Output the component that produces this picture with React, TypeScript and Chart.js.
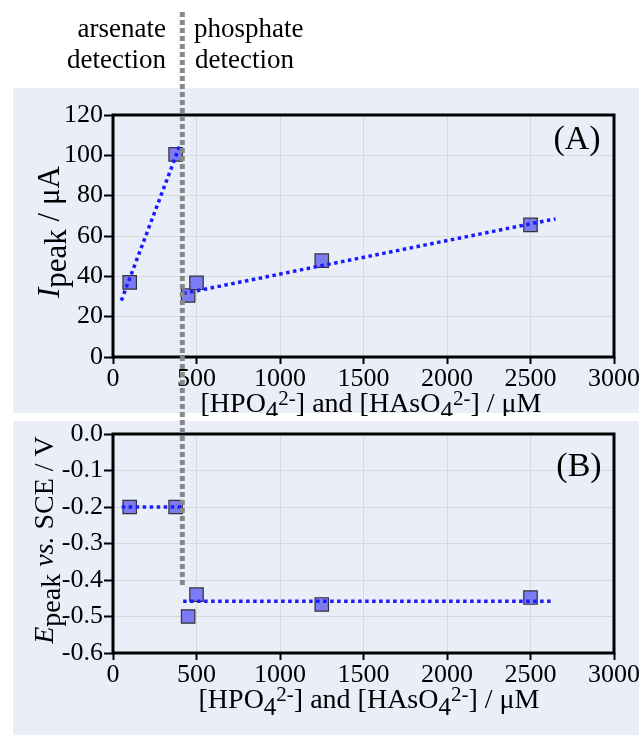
import React, { useEffect, useRef } from "react";
import { Chart, registerables } from "chart.js";
Chart.register(...registerables);

// ---------------- data ----------------
const xTickValues = [0, 500, 1000, 1500, 2000, 2500, 3000];
const iTickValues = [0, 20, 40, 60, 80, 100, 120];
const eTickValues = [0, -0.1, -0.2, -0.3, -0.4, -0.5, -0.6];

const arsenateConc = [100, 375];
const phosphateConc = [450, 500, 1250, 2500];

const arsenateIpeak = [37, 100.5];
const phosphateIpeak = [30.5, 36.8, 47.8, 65.5];
const arsenateIfitConc = [50, 403];
const arsenateIfit = [28, 105.5];
const phosphateIfitConc = [420, 2650];
const phosphateIfit = [31.5, 68.5];

const arsenateEpeak = [-0.2, -0.2];
const phosphateEpeak = [-0.5, -0.44, -0.467, -0.448];
const arsenateEfitConc = [52, 430];
const arsenateEfit = [-0.2, -0.2];
const phosphateEfitConc = [420, 2635];
const phosphateEfit = [-0.458, -0.458];

const dividerConc = 415;

// ---------------- styling ----------------
const FONT = "'Liberation Serif', 'Times New Roman', serif";
const PANEL_BG = "#e9eef8";
const GRID = "#d9d9d9";
const FIT_COLOR = "#1a1aff";
const MARK_FILL = "#7b7bf3";
const MARK_EDGE = "#333333";

type Seg = { t: string; size: number; dy?: number; italic?: boolean };

const xTitleSegs: Seg[] = [
  { t: "[HPO", size: 28 },
  { t: "4", size: 25, dy: 7 },
  { t: "2-", size: 21, dy: -7 },
  { t: "] and [HAsO", size: 28 },
  { t: "4", size: 25, dy: 7 },
  { t: "2-", size: 21, dy: -7 },
  { t: "] / \u03bcM", size: 28 },
];
const yTitleA: Seg[] = [
  { t: "I", size: 31, italic: true },
  { t: "peak", size: 31, dy: 7 },
  { t: " / \u03bcA", size: 31 },
];
const yTitleB: Seg[] = [
  { t: "E", size: 28, italic: true },
  { t: "peak", size: 28, dy: 7 },
  { t: " ", size: 28 },
  { t: "vs.", size: 28, italic: true },
  { t: " SCE / V", size: 28 },
];

function zip(xs: number[], ys: number[]) {
  return xs.map((x, i) => ({ x, y: ys[i] }));
}

function fontStr(s: Seg) {
  return `${s.italic ? "italic " : ""}${s.size}px ${FONT}`;
}

function drawRich(ctx: CanvasRenderingContext2D, segs: Seg[], cx: number, cy: number) {
  let total = 0;
  const widths = segs.map((s) => {
    ctx.font = fontStr(s);
    const w = ctx.measureText(s.t).width;
    total += w;
    return w;
  });
  let x = cx - total / 2;
  ctx.textAlign = "left";
  ctx.textBaseline = "alphabetic";
  ctx.fillStyle = "#000";
  segs.forEach((s, i) => {
    ctx.font = fontStr(s);
    ctx.fillText(s.t, x, cy + (s.dy || 0));
    x += widths[i];
  });
}

interface Deco {
  bg: [number, number, number, number];
  xTitleX: number;
  xTitleY: number;
  yTitle: Seg[];
  yTitleX: number;
  yTitleY: number;
  label: string;
  labelX: number;
  labelY: number;
  divTop: number;
  divBottom: number | null;
  divOffset: number;
  header: boolean;
}

function decoPlugin(d: Deco) {
  return {
    id: "deco",
    beforeDraw(chart: any) {
      const ctx: CanvasRenderingContext2D = chart.ctx;
      ctx.save();
      ctx.fillStyle = "#ffffff";
      ctx.fillRect(0, 0, chart.width, chart.height);
      ctx.fillStyle = PANEL_BG;
      ctx.fillRect(d.bg[0], d.bg[1], d.bg[2], d.bg[3]);
      ctx.restore();
    },
    afterDraw(chart: any) {
      const ctx: CanvasRenderingContext2D = chart.ctx;
      const a = chart.chartArea;
      ctx.save();
      // frame
      ctx.strokeStyle = "#000";
      ctx.lineWidth = 3;
      ctx.strokeRect(a.left, a.top, a.right - a.left, a.bottom - a.top);
      // titles
      drawRich(ctx, xTitleSegs, d.xTitleX, d.xTitleY);
      ctx.save();
      ctx.translate(d.yTitleX, d.yTitleY);
      ctx.rotate(-Math.PI / 2);
      drawRich(ctx, d.yTitle, 0, 0);
      ctx.restore();
      // panel label
      ctx.font = `34px ${FONT}`;
      ctx.textAlign = "center";
      ctx.textBaseline = "alphabetic";
      ctx.fillStyle = "#000";
      ctx.fillText(d.label, d.labelX, d.labelY);
      if (d.header) {
        ctx.font = `27px ${FONT}`;
        ctx.textAlign = "right";
        ctx.fillText("arsenate", 166, 37);
        ctx.fillText("detection", 166, 68);
        ctx.textAlign = "left";
        ctx.fillText("phosphate", 194, 37);
        ctx.fillText("detection", 195, 68);
      }
      // divider
      const x = chart.scales.x.getPixelForValue(dividerConc);
      ctx.strokeStyle = "#898989";
      ctx.lineWidth = 5;
      ctx.setLineDash([5, 3]);
      ctx.lineDashOffset = d.divOffset;
      ctx.beginPath();
      ctx.moveTo(x, d.divTop);
      ctx.lineTo(x, d.divBottom == null ? chart.height : d.divBottom);
      ctx.stroke();
      ctx.restore();
    },
  };
}

function fitDataset(data: { x: number; y: number }[]) {
  return {
    type: "line" as const,
    data,
    showLine: true,
    borderColor: FIT_COLOR,
    borderWidth: 3.5,
    borderDash: [3.5, 3.5],
    pointRadius: 0,
    fill: false,
    order: 0,
  };
}

function markDataset(data: { x: number; y: number }[]) {
  return {
    type: "scatter" as const,
    data,
    pointStyle: "rect",
    pointRadius: 9.5,
    pointHoverRadius: 9.5,
    backgroundColor: MARK_FILL,
    borderColor: MARK_EDGE,
    borderWidth: 1.2,
    order: 1,
  };
}

function makeScales(
  yMin: number,
  yMax: number,
  yTicks: number[],
  yFmt: (v: number) => string,
  yWidth: number,
  xHeight: number
) {
  const tickFont = { family: FONT, size: 26 };
  return {
    x: {
      type: "linear" as const,
      min: 0,
      max: 3000,
      afterBuildTicks: (s: any) => {
        s.ticks = xTickValues.map((v) => ({ value: v }));
      },
      afterFit: (s: any) => {
        s.height = xHeight;
      },
      ticks: {
        color: "#000",
        font: tickFont,
        padding: 0,
        maxRotation: 0,
        autoSkip: false,
        callback: (v: any) => String(v),
      },
      grid: { color: GRID, lineWidth: 1, tickLength: 7, tickColor: "#000", tickWidth: 2 },
      border: { display: false },
    },
    y: {
      type: "linear" as const,
      min: yMin,
      max: yMax,
      afterBuildTicks: (s: any) => {
        s.ticks = yTicks.map((v) => ({ value: v }));
      },
      afterFit: (s: any) => {
        s.width = yWidth;
      },
      ticks: {
        color: "#000",
        font: tickFont,
        padding: 1,
        autoSkip: false,
        callback: (v: any) => yFmt(Number(v)),
      },
      grid: { color: GRID, lineWidth: 1, tickLength: 9, tickColor: "#000", tickWidth: 2 },
      border: { display: false },
    },
  };
}

function Panel(props: { top: number; height: number; build: () => any }) {
  const ref = useRef<HTMLCanvasElement | null>(null);
  useEffect(() => {
    if (!ref.current) return;
    const chart = new Chart(ref.current, props.build());
    return () => chart.destroy();
  }, []);
  return (
    <canvas
      ref={ref}
      width={644}
      height={props.height}
      style={{ position: "absolute", left: 0, top: props.top, width: 644, height: props.height }}
    />
  );
}

const A_H = 416;
const B_H = 321;

function buildA() {
  return {
    type: "scatter",
    data: {
      datasets: [
        fitDataset(zip(arsenateIfitConc, arsenateIfit)),
        fitDataset(zip(phosphateIfitConc, phosphateIfit)),
        markDataset(zip(arsenateConc, arsenateIpeak)),
        markDataset(zip(phosphateConc, phosphateIpeak)),
      ],
    },
    options: {
      responsive: false,
      animation: false,
      devicePixelRatio: 1,
      layout: { padding: { left: 0, right: 30, top: 115, bottom: 0 } },
      plugins: { legend: { display: false }, tooltip: { enabled: false } },
      scales: makeScales(0, 120, iTickValues, (v) => String(Math.round(v)), 113, A_H - 357),
    },
    plugins: [
      decoPlugin({
        bg: [13, 88, 626, 325],
        xTitleX: 371,
        xTitleY: 412,
        yTitle: yTitleA,
        yTitleX: 59,
        yTitleY: 232,
        label: "(A)",
        labelX: 577,
        labelY: 149,
        divTop: 12,
        divBottom: null,
        divOffset: 0,
        header: true,
      }),
    ],
  };
}

function buildB() {
  return {
    type: "scatter",
    data: {
      datasets: [
        fitDataset(zip(arsenateEfitConc, arsenateEfit)),
        fitDataset(zip(phosphateEfitConc, phosphateEfit)),
        markDataset(zip(arsenateConc, arsenateEpeak)),
        markDataset(zip(phosphateConc, phosphateEpeak)),
      ],
    },
    options: {
      responsive: false,
      animation: false,
      devicePixelRatio: 1,
      layout: { padding: { left: 0, right: 30, top: 18, bottom: 0 } },
      plugins: { legend: { display: false }, tooltip: { enabled: false } },
      scales: makeScales(
        -0.6,
        0,
        eTickValues,
        (v) => (Math.abs(v) < 1e-9 ? "0.0" : v.toFixed(1)),
        113,
        B_H - 237
      ),
    },
    plugins: [
      decoPlugin({
        bg: [13, 5, 626, 314],
        xTitleX: 369,
        xTitleY: 292,
        yTitle: yTitleB,
        yTitleX: 53,
        yTitleY: 124,
        label: "(B)",
        labelX: 579,
        labelY: 60,
        divTop: 0,
        divBottom: 171,
        divOffset: 4,
        header: false,
      }),
    ],
  };
}

export default function App() {
  return (
    <div style={{ position: "absolute", left: 0, top: 0, width: 644, height: 737, background: "#fff" }}>
      <Panel top={0} height={A_H} build={buildA} />
      <Panel top={A_H} height={B_H} build={buildB} />
    </div>
  );
}
